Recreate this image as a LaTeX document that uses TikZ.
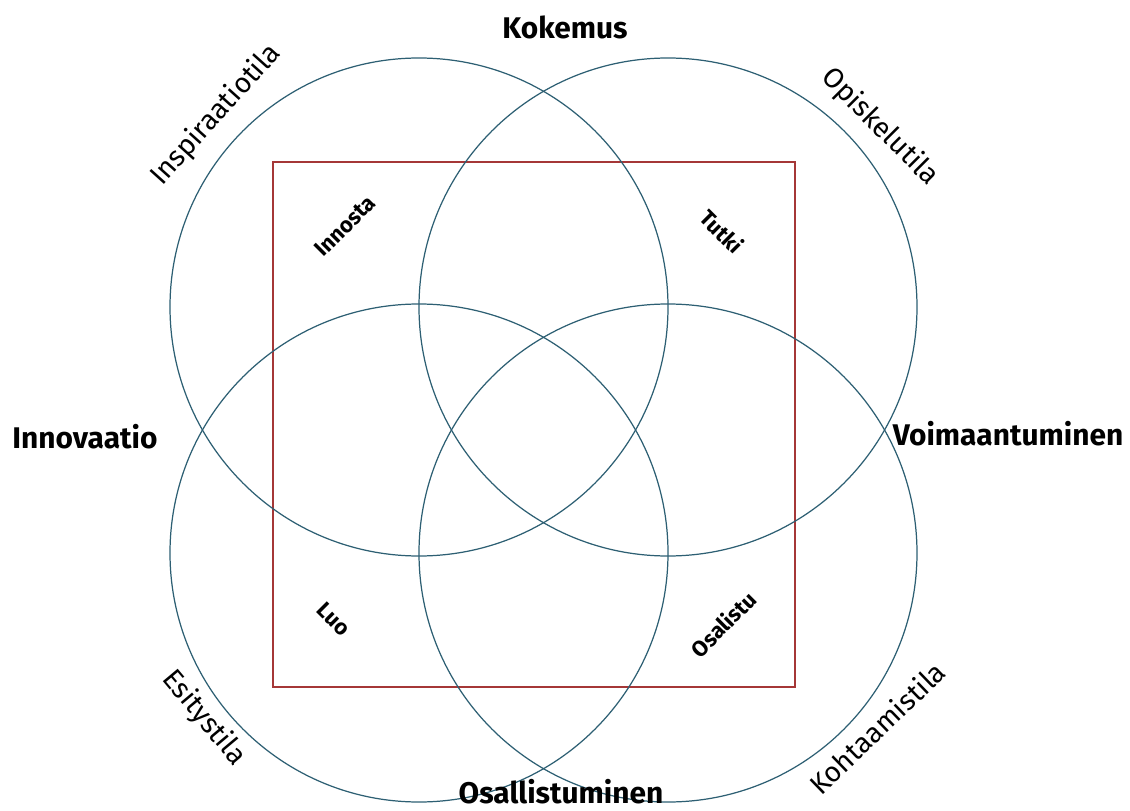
\documentclass[tikz,border=0pt]{standalone}
\usepackage{fontspec}
\setmainfont{Fira Sans}
\usepackage{tikz}
\definecolor{ringblue}{RGB}{45,95,115}
\definecolor{framered}{RGB}{165,55,55}
\tikzset{ring/.style={draw=ringblue,line width=0.7pt},frame/.style={draw=framered,line width=0.7pt},mainlabel/.style={font=\fontsize{17}{20}\selectfont\bfseries},spacelabel/.style={font=\fontsize{16}{19}\selectfont},verblabel/.style={font=\fontsize{12.5}{14}\selectfont\bfseries}}

\begin{document}
\begin{tikzpicture}[x=0.02cm,y=-0.02cm]
\useasboundingbox (0,0) rectangle (1130,811);
% four overlapping circles and the frame
\draw[frame] (273,162) rectangle (795,687);
\foreach \cx/\cy in {419/307,668/307,419/553,668/553}
  \draw[ring] (\cx,\cy) circle (249);
% outer labels
\node[mainlabel] (kokemus) at (565,27) {Kokemus};
\node[mainlabel] (innovaatio) at (85,437) {Innovaatio};
\node[mainlabel] (voimaantuminen) at (1008,434) {Voimaantuminen};
\node[mainlabel] (osallistuminen) at (561,792) {Osallistuminen};
% space labels
\node[spacelabel,rotate=48] (inspiraatio) at (216,115) {Inspiraatiotila};
\node[spacelabel,rotate=-45] (opiskelu) at (880,127) {Opiskelutila};
\node[spacelabel,rotate=-50] (esitys) at (204,718) {Esitystila};
\node[spacelabel,rotate=44] (kohtaamis) at (877,728) {Kohtaamistila};
% verbs inside the frame
\node[verblabel,rotate=45] (innosta) at (345,226) {Innosta};
\node[verblabel,rotate=-45] (tutki) at (722,231) {Tutki};
\node[verblabel,rotate=-45] (luo) at (334,619) {Luo};
\node[verblabel,rotate=45] (osalistu) at (723,624) {Osalistu};
\end{tikzpicture}
\end{document}
